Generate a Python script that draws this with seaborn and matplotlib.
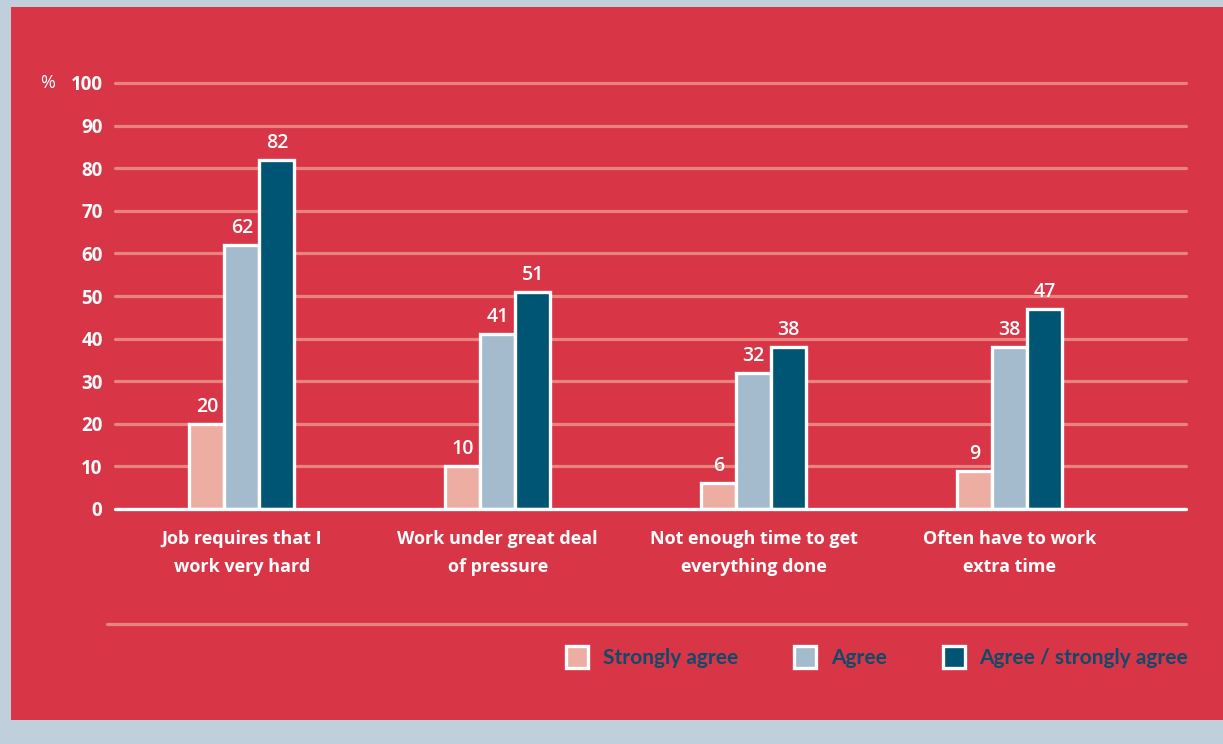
import matplotlib
matplotlib.use("Agg")
import matplotlib.pyplot as plt
from matplotlib.patches import Rectangle, Patch
from matplotlib.lines import Line2D
import seaborn as sns
import pandas as pd

categories = [
    "Job requires that I\nwork very hard",
    "Work under great deal\nof pressure",
    "Not enough time to get\neverything done",
    "Often have to work\nextra time",
]
series = ["Strongly agree", "Agree", "Agree / strongly agree"]
strongly_agree = [20, 10, 6, 9]
agree = [62, 41, 32, 38]
agree_or_strongly = [82, 51, 38, 47]
y_ticks = [0, 10, 20, 30, 40, 50, 60, 70, 80, 90, 100]

colors = ["#EDADA3", "#A4BBCE", "#005474"]
panel_red = "#D83647"
outer_bg = "#BFD0DC"
grid_pink = "#E9837F"
legend_text = "#0E4A6A"

rows = []
for name, vals in zip(series, [strongly_agree, agree, agree_or_strongly]):
    for cat, v in zip(categories, vals):
        rows.append({"category": cat, "series": name, "value": v})
df = pd.DataFrame(rows)

sns.set_theme(style="white")
plt.rcParams["font.family"] = ["Open Sans", "DejaVu Sans"]

W, H = 1223, 744
fig = plt.figure(figsize=(W / 100, H / 100), dpi=100)
fig.patch.set_facecolor(outer_bg)

# red panel
fig.add_artist(Rectangle((11 / W, (H - 720) / H), 1 - 11 / W, (720 - 7) / H,
                         transform=fig.transFigure, facecolor=panel_red,
                         edgecolor="none", zorder=0))

px_per_unit = (509 - 83) / 100
ymax = 103
ax_bottom = (H - 509) / H
ax_height = ymax * px_per_unit / H
ax = fig.add_axes([115 / W, ax_bottom, (1186 - 115) / W, ax_height])
ax.set_facecolor("none")

sns.barplot(data=df, x="category", y="value", hue="series", hue_order=series,
            palette=colors, width=0.41, gap=0, edgecolor="white", linewidth=2.4,
            saturation=1, legend=False, ax=ax, zorder=3)

ax.set_ylim(0, ymax)
ax.set_xlim(-0.496, 3.69)

for t in y_ticks[1:]:
    ax.axhline(t, color=grid_pink, lw=2.3, zorder=1, clip_on=False)
ax.axhline(0, color="white", lw=2.4, zorder=4, clip_on=False)

for s in ax.spines.values():
    s.set_visible(False)

ax.set_yticks(y_ticks)
ax.set_yticklabels([str(t) for t in y_ticks], color="white", fontsize=13.5,
                   fontweight="bold")
ax.tick_params(axis="y", length=0, pad=9)
ax.tick_params(axis="x", length=0, pad=15)
ax.set_xticks(range(len(categories)))
ax.set_xticklabels(categories, color="white", fontsize=13, fontweight="bold",
                   linespacing=1.75)
ax.set_xlabel("")
ax.set_ylabel("")
ax.text(-0.056, 100, "%", transform=ax.get_yaxis_transform(), color="white",
        fontsize=13, ha="right", va="center")

for cont in ax.containers:
    ax.bar_label(cont, labels=[f"{v:.0f}" for v in cont.datavalues],
                 color="white", fontsize=14, fontweight="semibold", padding=5)

# separator line above the legend
fig.add_artist(Line2D([107 / W, 1186 / W], [(H - 624) / H] * 2,
                      transform=fig.transFigure, color=grid_pink, lw=2.3))

handles = [Patch(facecolor=c, edgecolor="white", linewidth=2.4) for c in colors]
leg = fig.legend(handles, series, ncol=3, loc="center right",
                 bbox_to_anchor=(1207 / W, (H - 657) / H), frameon=False,
                 handlelength=1.05, handleheight=1.25, handletextpad=0.7,
                 columnspacing=2.7,
                 prop={"family": ["Lato", "DejaVu Sans"], "weight": "bold",
                       "size": 15})
for t in leg.get_texts():
    t.set_color(legend_text)

fig.savefig("out.png", dpi=100, facecolor=fig.get_facecolor())
